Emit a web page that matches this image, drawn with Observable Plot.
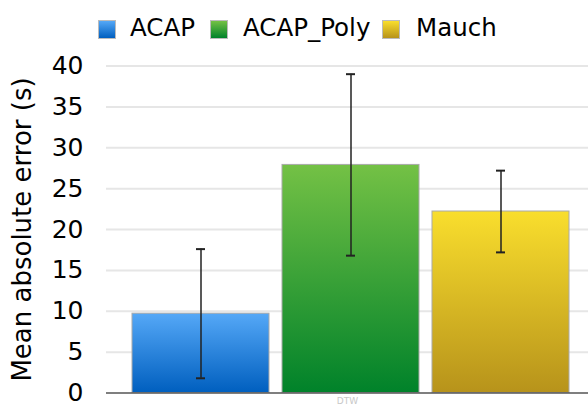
<!DOCTYPE html>
<html>
<head>
<meta charset="utf-8">
<script src="https://cdn.jsdelivr.net/npm/d3@7"></script>
<script src="https://cdn.jsdelivr.net/npm/@observablehq/plot@0.6"></script>
<style>
  html, body { margin: 0; padding: 0; background: #fff; }
  body { width: 588px; height: 408px; overflow: hidden; font-family: "DejaVu Sans", sans-serif; }
  #legend { position: relative; height: 52px; }
  .sw { position: absolute; top: 20px; width: 18px; height: 19px; box-sizing: border-box; border: 1px solid #bbb; }
  .lt { position: absolute; top: 14px; font-size: 24.5px; line-height: 28px; color: #000; white-space: nowrap; }
</style>
</head>
<body>
<div id="legend"></div>
<div id="chart"></div>
<script>
const categories = ["ACAP", "ACAP_Poly", "Mauch"];
const meanError = [9.7, 27.9, 22.2];
const errLow = [1.8, 16.8, 17.2];
const errHigh = [17.6, 39.0, 27.2];
const yTicks = [0, 5, 10, 15, 20, 25, 30, 35, 40];
const groupLabel = "DTW";
const yLabel = "Mean absolute error (s)";
const gradients = [
  ["#55a8f7", "#005fbf"],
  ["#74c145", "#00822a"],
  ["#f9de2d", "#b7931b"]
];

const data = categories.map((c, i) => ({cat: c, v: meanError[i], lo: errLow[i], hi: errHigh[i], g: "url(#grad" + i + ")"}));

// legend
const legend = document.getElementById("legend");
const legendPos = [[98, 130], [210, 243], [382, 416]];
categories.forEach((c, i) => {
  const sw = document.createElement("div");
  sw.className = "sw";
  sw.style.left = legendPos[i][0] + "px";
  sw.style.background = `linear-gradient(${gradients[i][0]}, ${gradients[i][1]})`;
  legend.appendChild(sw);
  const t = document.createElement("div");
  t.className = "lt";
  t.style.left = legendPos[i][1] + "px";
  t.textContent = c;
  legend.appendChild(t);
});

const plot = Plot.plot({
  width: 588,
  height: 356,
  marginLeft: 106,
  marginRight: 0,
  marginTop: 13.5,
  marginBottom: 15.5,
  style: {fontFamily: "DejaVu Sans, sans-serif", fontSize: "25px", color: "#000", background: "transparent"},
  x: {domain: categories, range: [132.3, 569.3], paddingInner: 0.088, paddingOuter: 0, axis: null},
  y: {domain: [0, 40], ticks: yTicks},
  marks: [
    Plot.ruleY(yTicks.filter(d => d > 0), {stroke: "#e6e6e6", strokeWidth: 2}),
    Plot.axisY({ticks: yTicks, tickSize: 0, tickPadding: 23, fontSize: 25, label: null}),
    Plot.axisY({ticks: [], tickSize: 0, fontSize: 26, label: yLabel, labelAnchor: "center", labelArrow: "none", labelOffset: 94}),
    Plot.barY(data, {x: "cat", y: "v", fill: "g", stroke: "#aaa", strokeWidth: 1}),
    Plot.ruleY([0], {stroke: "#555", strokeWidth: 1.5}),
    Plot.ruleX(data, {x: "cat", y1: "lo", y2: "hi", stroke: "#222", strokeWidth: 1.5}),
    Plot.tickY(data, {x: "cat", y: "lo", stroke: "#222", strokeWidth: 2, insetLeft: 64, insetRight: 64}),
    Plot.tickY(data, {x: "cat", y: "hi", stroke: "#222", strokeWidth: 2, insetLeft: 64, insetRight: 64}),
    Plot.text([groupLabel], {frameAnchor: "bottom", lineAnchor: "top", dy: 5, fontSize: 9, fill: "#c8c8c8"})
  ]
});

const defs = d3.select(plot).insert("defs", ":first-child");
gradients.forEach((g, i) => {
  const lg = defs.append("linearGradient").attr("id", "grad" + i).attr("x1", 0).attr("y1", 0).attr("x2", 0).attr("y2", 1);
  lg.append("stop").attr("offset", "0%").attr("stop-color", g[0]);
  lg.append("stop").attr("offset", "100%").attr("stop-color", g[1]);
});

document.getElementById("chart").appendChild(plot);
</script>
</body>
</html>
